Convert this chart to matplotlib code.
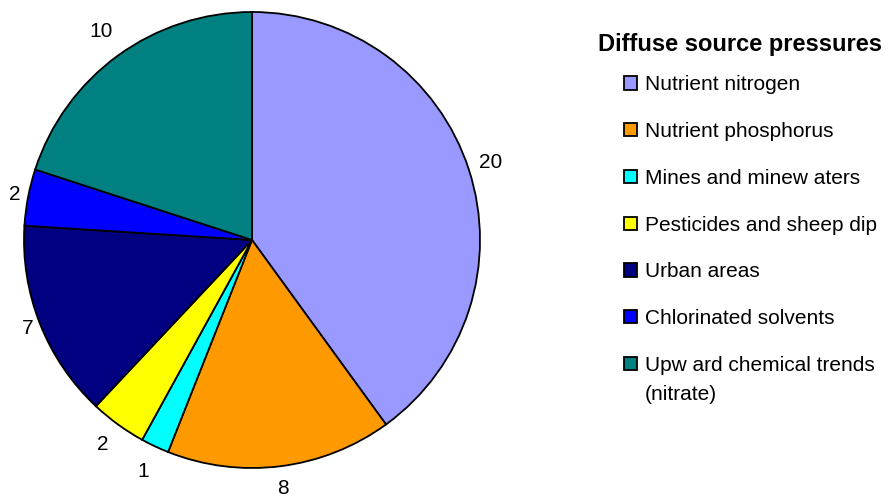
import numpy as np
import matplotlib.pyplot as plt
from matplotlib.patches import Patch

plt.rcParams['font.family'] = ['Liberation Sans', 'DejaVu Sans']

# Daten
categories = ['Nutrient nitrogen', 'Nutrient phosphorus', 'Mines and minew aters',
              'Pesticides and sheep dip', 'Urban areas', 'Chlorinated solvents',
              'Upw ard chemical trends\n(nitrate)']
values = [20, 8, 1, 2, 7, 2, 10]
colors = ['#9999FF', '#FF9900', '#00FFFF', '#FFFF00', '#000080', '#0000FF', '#008080']
label_dist = [1.1, 1.1, 1.12, 1.11, 1.06, 1.06, 1.13]

fig = plt.figure(figsize=(8.88, 4.99), dpi=100)
ax = fig.add_axes([24 / 888, 31 / 499, 456 / 888, 456 / 499])

wedges, texts = ax.pie(values, colors=colors, labels=[str(v) for v in values],
                       startangle=90, counterclock=False,
                       wedgeprops=dict(edgecolor='black', linewidth=1.3),
                       textprops=dict(fontsize=15))
# Beschriftungen mittig um den Kreis setzen
for w, t, d in zip(wedges, texts, label_dist):
    ang = np.deg2rad((w.theta1 + w.theta2) / 2)
    t.set_position((d * np.cos(ang), d * np.sin(ang)))
    t.set_ha('center')
    t.set_va('center')
ax.set_xlim(-1, 1)
ax.set_ylim(-1, 1)
ax.set_aspect('equal')

# Legende
fig.text(598 / 888, 1 - 44 / 499, 'Diffuse source pressures', fontsize=17,
         fontweight='bold', ha='left', va='center')
first_lines = [c.split('\n')[0] for c in categories]
handles = [Patch(facecolor=c, edgecolor='black', linewidth=1.3) for c in colors]
leg = fig.legend(handles, first_lines, loc='upper left',
                 bbox_to_anchor=(614 / 888, 1 - 65 / 499),
                 frameon=False, fontsize=15, handlelength=0.6, handleheight=0.6,
                 handletextpad=0.4, labelspacing=1.33, borderpad=0)
fig.text(645 / 888, 1 - 394 / 499, categories[-1].split('\n')[1], fontsize=15,
         ha='left', va='center')

fig.savefig('out.png', dpi=100)
